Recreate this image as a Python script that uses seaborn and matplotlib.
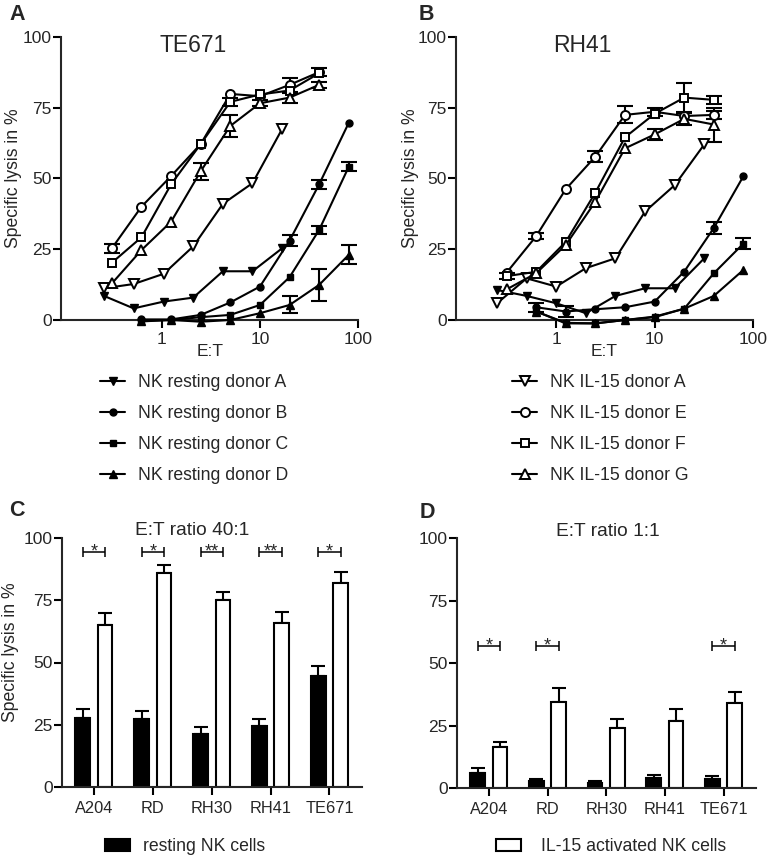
import numpy as np
import pandas as pd
import matplotlib
matplotlib.use("Agg")
import matplotlib.pyplot as plt
import seaborn as sns

# ------------------------------------------------------------------ data
et_donorA_te = [0.26, 0.52, 1.05, 2.1, 4.2, 8.4, 16.8]
et_donorA_rh = [0.25, 0.5, 1, 2, 4, 8, 16, 32]
et_resting = [0.625, 1.25, 2.5, 5, 10, 20, 40, 80]
et_il15 = [0.3125, 0.625, 1.25, 2.5, 5, 10, 20, 40]

# Panel A - TE671
te_rest_A = [8.5, 4.1, 6.5, 7.9, 17.2, 17.2, 25.3]
te_rest_B = [0.2, 0.2, 1.8, 6.2, 11.8, 28.0, 47.9, 69.6]
te_rest_B_err = [0, 0, 0, 0, 0, 2.0, 1.5, 0]
te_rest_C = [-0.3, 0.0, 1.0, 1.8, 5.3, 15.1, 31.8, 54.1]
te_rest_C_err = [0, 0, 0, 0, 0, 0, 1.5, 1.5]
te_rest_D = [-0.5, 0.0, -0.6, 0.0, 2.4, 5.3, 12.4, 23.0]
te_rest_D_err = [0, 0, 0, 0, 0, 3.0, 5.7, 3.3]
te_il_A = [11.2, 12.7, 16.3, 26.0, 41.0, 48.3, 67.4]
te_il_E = [25.3, 40.0, 50.8, 62.1, 79.8, 79.0, 83.0, 87.5]
te_il_E_err = [1.5, 0, 0, 0, 0, 0, 2.5, 1.5]
te_il_F = [20.2, 29.2, 47.9, 62.1, 77.0, 79.6, 81.0, 87.1]
te_il_F_err = [0, 0, 0, 0, 1.5, 0, 0, 0]
te_il_G = [12.9, 24.7, 34.7, 52.5, 68.5, 76.5, 78.5, 83.0]
te_il_G_err = [0, 0, 0, 3.0, 3.8, 1.0, 1.8, 1.0]

# Panel B - RH41
rh_rest_A = [10.6, 8.5, 5.9, 2.4, 8.5, 11.2, 11.2, 21.8]
rh_rest_B = [4.5, 3.0, 3.8, 4.5, 6.5, 17.1, 32.5, 50.8]
rh_rest_B_err = [1.5, 1.8, 0, 0, 0, 0, 2.0, 0]
rh_rest_C = [3.0, -1.2, -1.2, 0.0, 1.2, 4.0, 16.5, 27.0]
rh_rest_C_err = [0, 0, 0, 0, 0, 0, 0, 2.0]
rh_rest_D = [3.0, -1.0, -1.2, 0.0, 1.0, 4.0, 8.5, 17.7]
rh_il_A = [5.9, 14.7, 11.8, 18.3, 21.8, 38.3, 47.6, 62.0]
rh_il_E = [16.7, 29.6, 46.2, 57.7, 72.4, 73.5, 72.0, 72.4]
rh_il_E_err = [0, 1.0, 0, 2.0, 3.0, 1.5, 0, 1.5]
rh_il_F = [15.5, 17.0, 27.6, 45.0, 64.5, 72.8, 78.5, 77.7]
rh_il_F_err = [1.0, 0, 0, 0, 0, 0, 5.0, 1.5]
rh_il_G = [10.8, 16.5, 26.5, 41.8, 60.6, 65.5, 71.0, 69.0]
rh_il_G_err = [0, 0, 0, 0, 0, 2.0, 2.0, 6.0]

rest_labels = ["NK resting donor A", "NK resting donor B",
               "NK resting donor C", "NK resting donor D"]
il_labels = ["NK IL-15 donor A", "NK IL-15 donor E",
             "NK IL-15 donor F", "NK IL-15 donor G"]

# Panels C / D
cell_lines = ["A204", "RD", "RH30", "RH41", "TE671"]
c_rest = [27.5, 27.2, 21.2, 24.4, 44.6]
c_rest_err = [3.7, 3.1, 3.0, 2.8, 4.0]
c_il = [65.1, 86.0, 75.2, 66.0, 82.0]
c_il_err = [4.7, 3.3, 3.1, 4.2, 4.3]
c_sig = ["*", "*", "**", "**", "*"]
c_sig_y = 94.3
d_rest = [6.3, 2.9, 2.3, 4.0, 3.7]
d_rest_err = [1.7, 0.7, 0.6, 1.3, 1.2]
d_il = [16.4, 34.7, 24.0, 27.1, 34.0]
d_il_err = [2.3, 5.3, 3.7, 4.5, 4.7]
d_sig = ["*", "*", "", "", "*"]
d_sig_y = 57.0

# ------------------------------------------------------------------ style
sns.set_style("ticks")
plt.rcParams["font.family"] = ["Liberation Sans", "DejaVu Sans"]
plt.rcParams["axes.linewidth"] = 1.5

W, H = 767, 857
fig = plt.figure(figsize=(W / 100, H / 100), dpi=100)


def px_axes(l, t, r, b):
    return fig.add_axes([l / W, 1 - b / H, (r - l) / W, (b - t) / H])


ax_a = px_axes(61, 36.7, 358.3, 320)
ax_b = px_axes(455.7, 36.7, 753, 320)
ax_c = px_axes(61.7, 538.3, 361.7, 786.7)
ax_d = px_axes(456.7, 538.3, 755.7, 788.3)


def series(ax, x, y, marker, filled, ms, err=None):
    d = pd.DataFrame({"et": x, "lysis": y})
    sns.lineplot(data=d, x="et", y="lysis", ax=ax, estimator=None, sort=False,
                 color="black", linewidth=1.5, marker=marker, markersize=ms,
                 markerfacecolor="black" if filled else "white",
                 markeredgecolor="black",
                 markeredgewidth=1.0 if filled else 1.4,
                 clip_on=False, zorder=3)
    line = ax.lines[-1]
    if err is not None:
        e = np.asarray(err, float)
        m = e > 0
        ax.errorbar(np.asarray(x, float)[m], np.asarray(y, float)[m], yerr=e[m],
                    fmt="none", ecolor="black", elinewidth=1.5, capsize=6,
                    capthick=1.5, zorder=2.5, clip_on=False)
    return line


def style_line_axes(ax, title, tx):
    ax.set_xscale("log")
    ax.set_xlim(0.095, 100)
    ax.set_ylim(0, 100)
    ax.set_xticks([1, 10, 100])
    ax.set_xticklabels(["1", "10", "100"])
    ax.xaxis.set_minor_locator(matplotlib.ticker.NullLocator())
    ax.set_yticks([0, 25, 50, 75, 100])
    ax.tick_params(axis="both", direction="out", length=5.5, width=1.5,
                   labelsize=12.5, color="black")
    ax.tick_params(axis="y", pad=1)
    ax.tick_params(axis="x", pad=3)
    ax.set_xlabel("E:T", fontsize=12.5)
    ax.xaxis.set_label_coords(0.5, -0.085)
    ax.text(tx, 0.968, title, transform=ax.transAxes, ha="center",
            va="center", fontsize=16.5)
    sns.despine(ax=ax)


# Panel A
ra = [series(ax_a, et_donorA_te, te_rest_A, "v", True, 6),
      series(ax_a, et_resting, te_rest_B, "o", True, 5, te_rest_B_err),
      series(ax_a, et_resting, te_rest_C, "s", True, 4.8, te_rest_C_err),
      series(ax_a, et_resting, te_rest_D, "^", True, 5.5, te_rest_D_err)]
series(ax_a, et_donorA_te, te_il_A, "v", False, 7)
series(ax_a, et_il15, te_il_E, "o", False, 6.5, te_il_E_err)
series(ax_a, et_il15, te_il_F, "s", False, 6.3, te_il_F_err)
series(ax_a, et_il15, te_il_G, "^", False, 7, te_il_G_err)
style_line_axes(ax_a, "TE671", 0.443)
ax_a.set_ylabel("Specific lysis in %", fontsize=12.7)
ax_a.yaxis.set_label_coords(-0.132, 0.5)

# Panel B
series(ax_b, et_donorA_rh, rh_rest_A, "v", True, 6)
series(ax_b, et_resting, rh_rest_B, "o", True, 5, rh_rest_B_err)
series(ax_b, et_resting, rh_rest_C, "s", True, 4.8, rh_rest_C_err)
series(ax_b, et_resting, rh_rest_D, "^", True, 5.5)
ia = [series(ax_b, et_donorA_rh, rh_il_A, "v", False, 7),
      series(ax_b, et_il15, rh_il_E, "o", False, 6.5, rh_il_E_err),
      series(ax_b, et_il15, rh_il_F, "s", False, 6.3, rh_il_F_err),
      series(ax_b, et_il15, rh_il_G, "^", False, 7, rh_il_G_err)]
style_line_axes(ax_b, "RH41", 0.426)
ax_b.set_ylabel("Specific lysis in %", fontsize=12.7)
ax_b.yaxis.set_label_coords(-0.123, 0.5)

leg_kw = dict(loc="upper left", frameon=False, fontsize=12.7, handlelength=1.42,
              handletextpad=0.74, labelspacing=0.79, borderpad=0,
              borderaxespad=0)
fig.legend(ra, rest_labels, bbox_to_anchor=(100 / W, 1 - 374 / H), **leg_kw)
fig.legend(ia, il_labels, bbox_to_anchor=(512 / W, 1 - 374 / H), **leg_kw)


# Bars
def bars(ax, rest, rest_err, il, il_err, sig, sig_y, title, tx, ty):
    df = pd.DataFrame({"line": cell_lines * 2, "lysis": rest + il,
                       "group": ["resting"] * 5 + ["il15"] * 5})
    sns.barplot(data=df, x="line", y="lysis", hue="group",
                hue_order=["resting", "il15"],
                palette={"resting": "black", "il15": "white"}, saturation=1,
                width=0.76, gap=0.34, edgecolor="black", linewidth=1.5,
                errorbar=None, legend=False, ax=ax)
    centers = []
    for cont, err in zip(ax.containers, [rest_err, il_err]):
        xs = np.array([p.get_x() + p.get_width() / 2 for p in cont.patches])
        ys = np.array([p.get_height() for p in cont.patches])
        e = np.asarray(err, float)
        ax.errorbar(xs, ys, yerr=[np.zeros_like(e), e], fmt="none",
                    ecolor="black", elinewidth=1.5, capsize=5, capthick=1.5,
                    zorder=0.5)
        centers.append(xs)
    for xr, xi, s in zip(centers[0], centers[1], sig):
        if not s:
            continue
        ax.errorbar([(xr + xi) / 2], [sig_y], xerr=[(xi - xr) / 2], fmt="none",
                    ecolor="black", elinewidth=1.1, capsize=3.6, capthick=1.1)
        ax.annotate(s, xy=((xr + xi) / 2, sig_y), xytext=(0, -3.2),
                    textcoords="offset points", ha="center", va="baseline",
                    fontsize=13)
    ax.set_ylim(0, 100)
    ax.set_yticks([0, 25, 50, 75, 100])
    ax.set_xlabel("")
    ax.set_ylabel("")
    ax.tick_params(axis="both", direction="out", length=5.5, width=1.5,
                   color="black")
    ax.tick_params(axis="y", labelsize=12.5, pad=1)
    ax.tick_params(axis="x", labelsize=11.8, pad=4.5)
    ax.text(tx, ty, title, transform=ax.transAxes, ha="center", va="center",
            fontsize=13.8)
    sns.despine(ax=ax)


bars(ax_c, c_rest, c_rest_err, c_il, c_il_err, c_sig, c_sig_y,
     "E:T ratio 40:1", 0.434, 1.033)
ax_c.set_ylabel("Specific lysis in %", fontsize=12.7)
ax_c.yaxis.set_label_coords(-0.142, 0.543)
bars(ax_d, d_rest, d_rest_err, d_il, d_il_err, d_sig, d_sig_y,
     "E:T ratio 1:1", 0.504, 1.029)

bar_kw = dict(loc="upper left", frameon=False, fontsize=12.7, handlelength=1.42,
              handleheight=0.62, labelspacing=0.6, borderpad=0,
              borderaxespad=0)
fig.legend([ax_c.containers[0].patches[0]], ["resting NK cells"],
           bbox_to_anchor=(105 / W, 1 - 838 / H), handletextpad=0.74, **bar_kw)
fig.legend([ax_d.containers[1].patches[0]], ["IL-15 activated NK cells"],
           bbox_to_anchor=(496 / W, 1 - 838 / H), handletextpad=1.14, **bar_kw)

# Panel letters
for s, x, y in [("A", 17.5, 15), ("B", 426.5, 14.5), ("C", 16.5, 510),
                ("D", 427.5, 512.5)]:
    fig.text(x / W, 1 - y / H, s, ha="center", va="center", fontsize=15.5,
             fontweight="bold")

fig.savefig("out.png", dpi=100)
